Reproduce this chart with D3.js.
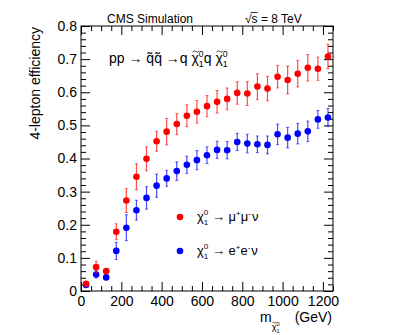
<!DOCTYPE html>
<html>
<head>
<meta charset="utf-8">
<script src="https://cdn.jsdelivr.net/npm/d3@7"></script>
<style>
  body { margin: 0; background: #fff; }
  svg text { font-family: "Liberation Sans", Arial, Helvetica, sans-serif; fill: #000; }
</style>
</head>
<body>
<svg id="chart"></svg>
<script>
// neutralino mass points (GeV)
const massPoints = [25, 75, 125, 175, 225, 275, 325, 375, 425, 475, 525, 575, 625,
  675, 725, 775, 825, 875, 925, 975, 1025, 1075, 1125, 1175, 1225];

// chi -> mu mu nu
const muonEff = [0.022, 0.072, 0.060, 0.179, 0.273, 0.345, 0.399, 0.452, 0.481, 0.504,
  0.529, 0.541, 0.558, 0.571, 0.580, 0.598, 0.596, 0.617, 0.611, 0.647, 0.637, 0.656,
  0.674, 0.671, 0.708];
const muonErr = [0.006, 0.018, 0.007, 0.024, 0.036, 0.039, 0.036, 0.030, 0.040, 0.032,
  0.033, 0.034, 0.032, 0.034, 0.033, 0.034, 0.036, 0.039, 0.037, 0.034, 0.042, 0.040,
  0.040, 0.035, 0.037];

// chi -> e e nu
const electronEff = [0.018, 0.050, 0.041, 0.121, 0.191, 0.244, 0.281, 0.318, 0.340, 0.362,
  0.381, 0.395, 0.410, 0.426, 0.425, 0.450, 0.445, 0.443, 0.441, 0.473, 0.463, 0.475,
  0.482, 0.518, 0.524];
const electronErr = [0.005, 0.011, 0.007, 0.026, 0.039, 0.030, 0.034, 0.035, 0.024, 0.028,
  0.026, 0.029, 0.025, 0.026, 0.026, 0.026, 0.028, 0.025, 0.027, 0.031, 0.031, 0.031,
  0.031, 0.027, 0.027];

const xTicks = [0, 200, 400, 600, 800, 1000, 1200];
const yTicks = [0, 0.1, 0.2, 0.3, 0.4, 0.5, 0.6, 0.7, 0.8];
const xTickLabels = ["0", "200", "400", "600", "800", "1000", "1200"];
const yTickLabels = ["0", "0.1", "0.2", "0.3", "0.4", "0.5", "0.6", "0.7", "0.8"];

// Set up the dimensions
const W = 407, H = 335;
const margin = { top: 26, right: 74, bottom: 44, left: 81 };
const width = W - margin.left - margin.right;
const height = H - margin.top - margin.bottom;

const svg = d3.select("#chart").attr("width", W).attr("height", H);
const g = svg.append("g").attr("transform", `translate(${margin.left},${margin.top})`);

const x = d3.scaleLinear().domain([0, 1250]).range([0, width]);
const y = d3.scaleLinear().domain([0, 0.8]).range([height, 0]);

// minor ticks
const xMinor = d3.range(0, 1251, 50).filter(v => v % 200 !== 0);
const yMinor = d3.range(0, 81, 2).map(v => v / 100).filter((v, i) => i % 5 !== 0);

function styleAxis(sel) {
  sel.select(".domain").remove();
  sel.selectAll("line").attr("stroke", "#000");
  sel.selectAll("text").style("font-size", "14px").attr("fill", "#000");
}

// bottom axis
g.append("g").attr("transform", `translate(0,${height})`)
  .call(d3.axisBottom(x).tickValues(xTicks).tickFormat((d, i) => xTickLabels[i]).tickSize(-9).tickPadding(5))
  .call(styleAxis);
g.append("g").attr("transform", `translate(0,${height})`)
  .call(d3.axisBottom(x).tickValues(xMinor).tickFormat("").tickSize(-5))
  .call(styleAxis);
// top axis
g.append("g")
  .call(d3.axisTop(x).tickValues(xTicks).tickFormat("").tickSize(-9))
  .call(styleAxis);
g.append("g")
  .call(d3.axisTop(x).tickValues(xMinor).tickFormat("").tickSize(-5))
  .call(styleAxis);
// left axis
g.append("g")
  .call(d3.axisLeft(y).tickValues(yTicks).tickFormat((d, i) => yTickLabels[i]).tickSize(-9).tickPadding(4))
  .call(styleAxis);
g.append("g")
  .call(d3.axisLeft(y).tickValues(yMinor).tickFormat("").tickSize(-5))
  .call(styleAxis);
// right axis
g.append("g").attr("transform", `translate(${width},0)`)
  .call(d3.axisRight(y).tickValues(yTicks).tickFormat("").tickSize(-9))
  .call(styleAxis);
g.append("g").attr("transform", `translate(${width},0)`)
  .call(d3.axisRight(y).tickValues(yMinor).tickFormat("").tickSize(-5))
  .call(styleAxis);

// frame
g.append("rect").attr("width", width).attr("height", height)
  .attr("fill", "none").attr("stroke", "#000").attr("stroke-width", 1);

// series with error bars
function drawSeries(vals, errs, color) {
  const data = massPoints.map((m, i) => ({ m, v: vals[i], e: errs[i] }));
  const s = g.append("g");
  s.selectAll(".err").data(data).enter().append("line")
    .attr("x1", d => x(d.m)).attr("x2", d => x(d.m))
    .attr("y1", d => y(d.v - d.e)).attr("y2", d => y(d.v + d.e))
    .attr("stroke", color).attr("stroke-opacity", 0.7).attr("stroke-width", 1.2);
  s.selectAll(".capLo").data(data).enter().append("line")
    .attr("x1", d => x(d.m) - 1.5).attr("x2", d => x(d.m) + 1.5)
    .attr("y1", d => y(d.v - d.e)).attr("y2", d => y(d.v - d.e))
    .attr("stroke", color).attr("stroke-opacity", 0.6);
  s.selectAll(".capHi").data(data).enter().append("line")
    .attr("x1", d => x(d.m) - 1.5).attr("x2", d => x(d.m) + 1.5)
    .attr("y1", d => y(d.v + d.e)).attr("y2", d => y(d.v + d.e))
    .attr("stroke", color).attr("stroke-opacity", 0.6);
  s.selectAll("circle").data(data).enter().append("circle")
    .attr("cx", d => x(d.m)).attr("cy", d => y(d.v)).attr("r", 3.3)
    .attr("fill", color);
}
drawSeries(electronEff, electronErr, "#0000ff");
drawSeries(muonEff, muonErr, "#ff0000");

// text helper: draws a piece, returns end x
function txt(parent, x0, y0, str, size, anchor) {
  const t = parent.append("text").attr("x", x0).attr("y", y0)
    .style("font-size", size + "px").text(str);
  if (anchor) t.attr("text-anchor", anchor);
  return x0 + t.node().getComputedTextLength();
}
// small tilde accent drawn as a path
function tildeMark(parent, cx, cy, w) {
  const h = w * 0.22;
  parent.append("path")
    .attr("d", `M${cx - w / 2},${cy + h / 2} C${cx - w / 4},${cy - h * 1.5} ${cx},${cy + h * 1.5 - h} ${cx},${cy}` +
      ` S${cx + w / 4},${cy + h * 1.5} ${cx + w / 2},${cy - h / 2}`)
    .attr("fill", "none").attr("stroke", "#000").attr("stroke-width", Math.max(0.7, w / 8));
}
// chi with optional tilde and stacked sup/sub
function chi(parent, x0, y0, size, tilde, sup, sub) {
  const x1 = txt(parent, x0, y0, "\u03c7", size);
  if (tilde) tildeMark(parent, (x0 + x1) / 2 + size * 0.05, y0 - size * 0.82, size * 0.45);
  const small = size * 0.62;
  const a = txt(parent, x1, y0 - size * 0.45, sup, small);
  const b = txt(parent, x1, y0 + size * 0.3, sub, small);
  return Math.max(a, b);
}

// header
txt(svg, 107, 23, "CMS Simulation", 12);
let hx = txt(svg, 245, 23, "\u221a", 12);
svg.append("line").attr("x1", hx - 1).attr("x2", hx + 6).attr("y1", 12.5).attr("y2", 12.5)
  .attr("stroke", "#000").attr("stroke-width", 0.8);
txt(svg, hx, 23, "s = 8 TeV", 12);

// process label
let px = 109, py = 63;
px = txt(svg, px, py, "pp \u2192 q\u0303q\u0303 \u2192q\u00a0", 14);
px = chi(svg, px, py, 14, true, "0", "1");
px = txt(svg, px, py, "q\u00a0", 14);
chi(svg, px, py, 14, true, "0", "1");

// legend
const legend = [
  { color: "#ff0000", y: 217, rest: "\u00a0\u2192 \u03bc", sup1: "+", mid: "\u03bc", sup2: "-", end: "\u03bd" },
  { color: "#0000ff", y: 251, rest: "\u00a0\u2192 e", sup1: "+", mid: "e", sup2: "-", end: "\u03bd" }
];
legend.forEach(l => {
  svg.append("circle").attr("cx", 180).attr("cy", l.y).attr("r", 3.3).attr("fill", l.color);
  const by = l.y + 4;
  let lx = chi(svg, 197, by, 13, false, "0", "1");
  lx = txt(svg, lx, by, l.rest, 13);
  lx = txt(svg, lx, by - 5, l.sup1, 8);
  lx = txt(svg, lx, by, l.mid, 13);
  lx = txt(svg, lx, by - 5, l.sup2, 8);
  txt(svg, lx + 1, by, l.end, 13);
});

// axis titles
svg.append("text")
  .attr("transform", "translate(40,27) rotate(-90)")
  .attr("text-anchor", "end")
  .style("font-size", "14px")
  .text("4-lepton efficiency");

let mx = txt(svg, 260, 322, "m", 14);
chi(svg, mx, 330, 9, true, "0", "1");
txt(svg, 332, 322, "(GeV)", 14, "end");
</script>
</body>
</html>
